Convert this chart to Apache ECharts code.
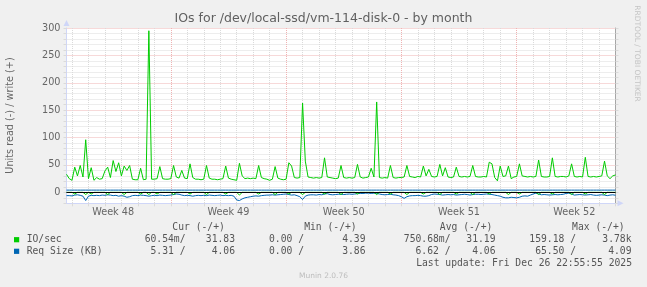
<!DOCTYPE html>
<html><head><meta charset="utf-8">
<script src="https://cdn.jsdelivr.net/npm/echarts@6/dist/echarts.min.js"></script>
<style>html,body{margin:0;padding:0;background:#f0f0f0;} #c{width:647px;height:287px;}</style>
</head><body><div id="c"></div>
<script>
const title = 'IOs for /dev/local-ssd/vm-114-disk-0 - by month';
const yAxisName = 'Units read (-) / write (+)';
const startTime = '2025-11-23T16:00:00Z';
const stepHours = 4;
const weekTicks = ['Week 48', 'Week 49', 'Week 50', 'Week 51', 'Week 52'];
const yTicks = [0, 50, 100, 150, 200, 250, 300];

// IO/sec write (+)
const ioWrite = [
 33,25,22,46,30,49,28,96,25,45,
 22,27,24,25,39,46,27,58,38,54,
 30,48,40,49,24,23,23,44,23,24,
 295,24,24,25,47,25,24,24,25,49,
 28,26,40,26,25,52,27,24,24,23,
 24,49,26,24,24,23,24,25,48,26,
 24,23,22,53,30,25,26,25,26,25,
 49,27,25,24,22,24,47,26,24,23,
 24,54,48,27,26,27,163,57,28,27,
 26,27,26,27,63,28,27,26,25,26,
 49,27,26,27,26,27,51,28,26,27,
 28,44,28,165,27,26,27,26,49,27,
 26,27,27,28,49,29,28,27,29,28,
 48,30,42,29,28,29,51,30,45,28,
 27,28,46,29,28,29,28,29,49,29,
 28,28,29,28,55,52,27,21,48,29,
 30,48,25,28,29,52,30,29,28,29,
 28,29,59,29,28,28,29,63,29,28,
 29,29,28,30,52,29,28,29,28,64,
 29,28,29,28,29,30,57,30,25,30,
 31.83
];
// IO/sec read (-)
const ioRead = [
 0,0,0,3,0,0,0,4,0,3,
 0,0,0,0,0,4,0,0,0,0,
 0,4,0,0,0,0,0,3,0,0,
 4,0,0,3,0,0,0,0,0,4,
 0,0,0,0,0,3,0,0,0,0,
 0,4,0,0,0,0,0,0,3,0,
 0,0,0,5,0,0,0,0,0,0,
 3,0,0,0,0,0,4,0,0,0,
 0,3,0,0,0,0,4,0,0,0,
 0,0,0,0,3,0,0,0,0,0,
 4,0,0,0,0,0,3,0,0,0,
 0,0,0,4,0,0,0,0,3,0,
 0,0,0,0,4,0,0,0,0,0,
 3,0,0,0,0,0,4,0,0,0,
 0,0,3,0,0,0,0,0,4,0,
 0,0,0,0,3,0,0,0,0,0,
 0,4,0,0,0,3,0,0,0,0,
 0,0,4,0,0,0,0,3,0,0,
 0,0,0,0,4,0,0,0,0,3,
 0,0,0,0,0,0,4,0,0,0,
 0.06
];
// Req Size (KB) write (+)
const reqWrite = [
 4.06,4.06,4.06,4.06,4.06,4.06,4.06,4.06,4.06,4.06,
 4.06,4.06,4.06,4.06,4.06,4.06,4.06,4.06,4.06,4.06,
 4.06,4.06,4.06,4.06,4.06,4.06,4.06,4.06,4.06,4.06,
 4.06,4.06,4.06,4.06,4.06,4.06,4.06,4.06,4.06,4.06,
 4.06,4.06,4.06,4.06,4.06,4.06,4.06,4.06,4.06,4.06,
 4.06,4.06,4.06,4.06,4.06,4.06,4.06,4.06,4.06,4.06,
 4.06,4.06,4.06,4.06,4.06,4.06,4.06,4.06,4.06,4.06,
 4.06,4.06,4.06,4.06,4.06,4.06,4.06,4.06,4.06,4.06,
 4.06,4.06,4.06,4.06,4.06,4.06,4.06,4.06,4.06,4.06,
 4.06,4.06,4.06,4.06,4.06,4.06,4.06,4.06,4.06,4.06,
 4.06,4.06,4.06,4.06,4.06,4.06,4.06,4.06,4.06,4.06,
 4.06,4.06,4.06,4.06,4.06,4.06,4.06,4.06,4.06,4.06,
 4.06,4.06,4.06,4.06,4.06,4.06,4.06,4.06,4.06,4.06,
 4.06,4.06,4.06,4.06,4.06,4.06,4.06,4.06,4.06,4.06,
 4.06,4.06,4.06,4.06,4.06,4.06,4.06,4.06,4.06,4.06,
 4.06,4.06,4.06,4.06,4.06,4.06,4.06,4.06,4.06,4.06,
 4.06,4.06,4.06,4.06,4.06,4.06,4.06,4.06,4.06,4.06,
 4.06,4.06,4.06,4.06,4.06,4.06,4.06,4.06,4.06,4.06,
 4.06,4.06,4.06,4.06,4.06,4.06,4.06,4.06,4.06,4.06,
 4.06,4.06,4.06,4.06,4.06,4.06,4.06,4.06,4.06,4.06,
 4.06
];
// Req Size (KB) read (-)
const reqRead = [
 6,6,6.5,5,4.5,5.5,7,15,7,5.5,
 6,5.5,6,5,5.5,4.5,5,6,5.5,7,
 6,7,9,8,6,5.5,6,5,5.5,6,
 7,6,5.5,6,5,5.5,6,5.5,5,4,
 3,3.5,5,6,5.5,6,7,6,5.5,6,
 5.5,6,5,5.5,6,5.5,5,6,5.5,6,
 5.5,7,14,15,12,10,9,8,7,6.5,
 7,6,5.5,5,5,4.5,5,4.5,4,3.5,
 3,4,5,4.5,6,8,13,7,5,4.5,
 4.5,5,4,4.5,3,2.5,4,4.5,4,3.5,
 3.5,4,3.5,3,3.5,3,2.5,2,2,1.5,
 1.5,2,1.5,2,3,4,4.5,4,3.5,4.5,
 5,6,8,11,8,6.5,6,6,5.5,6,
 7,7,6,4,3,3.5,4,5,4.5,4,
 4.5,4,5,4.5,4,3.5,4,5,4,3.5,
 3.5,4,3.5,3,3.5,4,5,6,7,9,
 10,10,9,9.5,10,9,7,6.5,7,5,
 3,1.5,3,4.5,4,4.5,5,4.5,4,4.5,
 4,3.5,2,1.5,3,5,4.5,4,4.5,5,
 4.5,4,5,5.5,5,4.5,5,6,5,4.5,
 5.31
];

const seriesNames = ['IO/sec', 'Req Size (KB)'];
const seriesColors = ['#00cc00', '#0066b3'];
const legendHeaders = ['Cur (-/+)', 'Min (-/+)', 'Avg (-/+)', 'Max (-/+)'];
const ioStats = ['60.54m/', '31.83', '0.00 /', '4.39', '750.68m/', '31.19', '159.18 /', '3.78k'];
const reqStats = ['5.31 /', '4.06', '0.00 /', '3.86', '6.62 /', '4.06', '65.50 /', '4.09'];
const lastUpdate = 'Last update: Fri Dec 26 22:55:55 2025';
const footer = 'Munin 2.0.76';
const watermark = 'RRDTOOL / TOBI OETIKER';

// ---- build ----
const t0 = Date.parse(startTime);
const categories = ioWrite.map((_, i) => new Date(t0 + i * stepHours * 3600000).toISOString());
const D = v => new Date(v);
const isDay = (i, v) => D(v).getUTCHours() === 0;
const isWeek = (i, v) => D(v).getUTCHours() === 0 && D(v).getUTCDay() === 0;
const isDayOnly = (i, v) => isDay(i, v) && !isWeek(i, v);
const isMid = (i, v) => D(v).getUTCHours() === 12 && D(v).getUTCDay() === 3;
function isoWeek(d) {
  const t = new Date(Date.UTC(d.getUTCFullYear(), d.getUTCMonth(), d.getUTCDate()));
  const day = t.getUTCDay() || 7;
  t.setUTCDate(t.getUTCDate() + 4 - day);
  const y0 = new Date(Date.UTC(t.getUTCFullYear(), 0, 1));
  return Math.ceil(((t - y0) / 86400000 + 1) / 7);
}
const weekLabel = v => weekTicks.find(s => s.endsWith(' ' + isoWeek(D(v)))) || '';

const FONT = '#666666';
const MINOR = '#dadada';
const MAJOR = '#efb3b3';
const AX = '#cfd6f8';
const SANS = 'DejaVu Sans';
const MONO = 'DejaVu Sans Mono';

const neg = arr => arr.map(v => -v);
const lineSeries = (name, data, color, extra) => Object.assign({
  name, type: 'line', data, xAxisIndex: 0, yAxisIndex: 0,
  symbol: 'none', showSymbol: false, animation: false, silent: true,
  lineStyle: { color, width: 1 }, itemStyle: { color }
}, extra || {});

const graphic = [];
const txt = (text, x, y, opt) => graphic.push(Object.assign({
  type: 'text', x, y, silent: true,
  style: Object.assign({ text, fill: FONT, font: '9.7px "' + MONO + '"', textAlign: 'left', textVerticalAlign: 'middle' }, opt && opt.style || {})
}, opt && opt.el || {}));

txt(title, 323.5, 19, { style: { font: '12.5px "' + SANS + '"', textAlign: 'center', fill: '#606060' } });
txt(yAxisName, 10.5, 115.5, { style: { font: '9.7px "' + SANS + '"', textAlign: 'center' }, el: { rotation: Math.PI / 2 } });
txt(watermark, 636.5, 53.5, { style: { font: '7.5px "' + SANS + '"', textAlign: 'center', fill: '#c4c4c4' }, el: { rotation: -Math.PI / 2 } });

const headerX = [172.3, 304.2, 439.8, 572.1];
legendHeaders.forEach((h, k) => txt(h, headerX[k], 227.5, { style: { fill: '#555' } }));
const colRight = [185.5, 235, 304, 365.5, 450.5, 495.5, 576, 631.5];
const rowY = [239.7, 251.3];
[ioStats, reqStats].forEach((stats, r) => {
  graphic.push({ type: 'rect', silent: true, shape: { x: 14, y: rowY[r] - 2.6, width: 5.2, height: 5.2 }, style: { fill: seriesColors[r] } });
  txt(seriesNames[r], 26.7, rowY[r], { style: { fill: '#555' } });
  stats.forEach((s, k) => txt(s, colRight[k], rowY[r], { style: { textAlign: 'right', fill: '#555' } }));
});
txt(lastUpdate, 632, 263.5, { style: { textAlign: 'right', fill: '#555' } });
txt(footer, 323.5, 276.5, { style: { font: '7.5px "' + SANS + '"', textAlign: 'center', fill: '#bdbdbd' } });

const chart = echarts.init(document.getElementById('c'), null, { renderer: 'canvas' });
chart.setOption({
  animation: false,
  backgroundColor: '#f0f0f0',
  textStyle: { fontFamily: SANS },
  grid: { left: 66.5, right: 31.5, top: 28, bottom: 83.7, show: true, backgroundColor: '#ffffff', borderWidth: 0, outerBoundsMode: 'none', containLabel: false },
  xAxis: [{
    type: 'category', data: categories, boundaryGap: false, position: 'bottom',
    axisLine: { show: true, onZero: false, lineStyle: { color: AX, width: 1 }, symbol: ['none', 'triangle'], symbolSize: [6, 6], symbolOffset: [0, 5] },
    axisTick: { show: true, interval: isDay, length: 3, lineStyle: { color: MINOR } },
    axisLabel: { show: true, interval: isMid, formatter: weekLabel, color: FONT, fontFamily: SANS, fontSize: 9.7, margin: 4 },
    splitLine: { show: true, interval: isDayOnly, lineStyle: { color: MINOR, type: [1, 1], width: 1 } }
  }, {
    type: 'category', data: categories, boundaryGap: false, position: 'bottom', offset: 0,
    axisLine: { show: false },
    axisTick: { show: true, interval: isWeek, length: 3, lineStyle: { color: MAJOR } },
    axisLabel: { show: false },
    splitLine: { show: true, interval: isWeek, lineStyle: { color: MAJOR, type: [1, 1], width: 1 } }
  }],
  yAxis: [{
    type: 'value', min: -20, max: 300, interval: 10, position: 'left',
    axisLine: { show: true, onZero: false, lineStyle: { color: AX, width: 1 }, symbol: ['none', 'triangle'], symbolSize: [6, 6], symbolOffset: [0, 5] },
    axisTick: { show: true, length: 3, lineStyle: { color: MINOR } },
    axisLabel: { show: true, formatter: v => (yTicks.indexOf(v) >= 0 ? String(v) : ''), color: FONT, fontFamily: SANS, fontSize: 9.7, margin: 6 },
    splitLine: { show: true, lineStyle: { color: [MINOR, MINOR, MAJOR, MINOR, MINOR], type: [1, 1], width: 1 } }
  }, {
    type: 'value', min: -20, max: 300, interval: 10, position: 'right',
    axisLine: { show: true, onZero: false, lineStyle: { color: '#a6a6a6', width: 1 } },
    axisTick: { show: true, length: 3, lineStyle: { color: MINOR } },
    axisLabel: { show: false },
    splitLine: { show: false }
  }],
  series: [
    lineSeries(seriesNames[1] + ' read', neg(reqRead), seriesColors[1]),
    lineSeries(seriesNames[0] + ' read', neg(ioRead), seriesColors[0]),
    lineSeries(seriesNames[1], reqWrite, seriesColors[1]),
    lineSeries(seriesNames[0], ioWrite, seriesColors[0], {
      markLine: { silent: true, symbol: 'none', animation: false, label: { show: false },
        lineStyle: { color: '#000000', type: 'solid', width: 1 }, data: [{ yAxis: 0 }] }
    })
  ],
  graphic
});
</script>
</body></html>
